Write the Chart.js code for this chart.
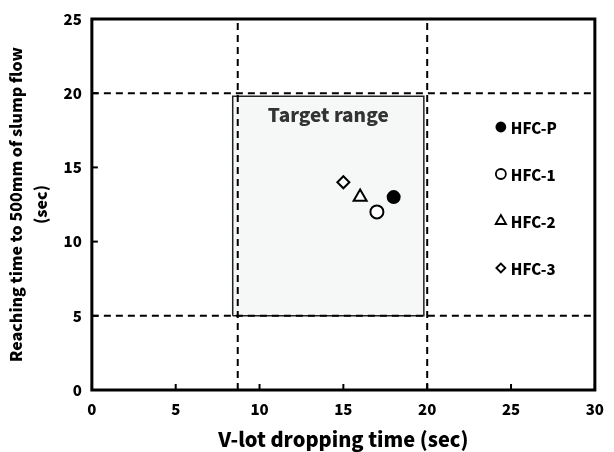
<!DOCTYPE html>
<html lang="en">
<head>
  <meta charset="UTF-8" />
  <title>V-lot vs slump flow</title>
  <script src="https://cdn.jsdelivr.net/npm/chart.js"></script>
  <style>
    body { margin: 0; background: #fff; }
    #wrap { width: 614px; height: 452px; }
  </style>
</head>
<body>
  <div id="wrap"><canvas id="chart" width="614" height="452"></canvas></div>

  <script>
    const FONT = '"Noto Sans CJK KR", "DejaVu Sans", sans-serif';

    // mixes
    const mixNames = ['HFC-P', 'HFC-1', 'HFC-2', 'HFC-3'];
    const vlotTime = [18, 17, 16, 15];
    const slumpTime = [13, 12, 13, 14];

    // limits
    const vlotLimits = [8.7, 20];
    const slumpLimits = [20, 5];
    const targetX = [8.4, 19.8];
    const targetY = [5, 19.8];

    const xTicks = [0, 5, 10, 15, 20, 25, 30];
    const yTicks = [0, 5, 10, 15, 20, 25];

    const markerStyles = [
      { pointStyle: 'circle', radius: 6, fill: '#000' },
      { pointStyle: 'circle', radius: 6.5, fill: '#fff' },
      { pointStyle: 'triangle', radius: 7.5, fill: '#fff' },
      { pointStyle: 'rectRot', radius: 6, fill: '#fff' }
    ];

    const datasets = [];

    mixNames.forEach((name, i) => {
      const m = markerStyles[i];
      datasets.push({
        label: name,
        data: [{ x: vlotTime[i], y: slumpTime[i] }],
        pointStyle: m.pointStyle,
        pointRadius: m.radius,
        pointBackgroundColor: m.fill,
        pointBorderColor: '#000',
        pointBorderWidth: 2,
        showLine: false,
        order: 0
      });
    });

    vlotLimits.forEach(v => {
      datasets.push({
        label: 'limit',
        data: [{ x: v, y: 0 }, { x: v, y: 25 }],
        showLine: true, borderColor: '#000', borderWidth: 2, borderDash: [7, 5],
        pointRadius: 0, order: 1
      });
    });
    slumpLimits.forEach(v => {
      datasets.push({
        label: 'limit',
        data: [{ x: 0, y: v }, { x: 30, y: v }],
        showLine: true, borderColor: '#000', borderWidth: 2, borderDash: [7, 5],
        pointRadius: 0, order: 1
      });
    });

    // shaded target box
    datasets.push({
      label: 'target',
      data: [
        { x: targetX[0], y: targetY[0] },
        { x: targetX[0], y: targetY[1] },
        { x: targetX[1], y: targetY[1] },
        { x: targetX[1], y: targetY[0] },
        { x: targetX[0], y: targetY[0] }
      ],
      showLine: true, borderColor: '#222', borderWidth: 1.5,
      backgroundColor: '#f6f8f8', fill: 'shape',
      pointRadius: 0, tension: 0, order: 2
    });

    const framePlugin = {
      id: 'frame',
      afterDatasetsDraw(chart) {
        const { ctx, chartArea: a, scales } = chart;
        ctx.save();
        // box label
        ctx.fillStyle = '#333';
        ctx.font = '900 19px ' + FONT;
        ctx.textAlign = 'center';
        ctx.textBaseline = 'middle';
        const cx = (scales.x.getPixelForValue(targetX[0]) + scales.x.getPixelForValue(targetX[1])) / 2;
        ctx.fillText('Target range', cx, scales.y.getPixelForValue(targetY[1]) + 19);

        // legend
        ctx.textAlign = 'left';
        ctx.font = '900 15px ' + FONT;
        mixNames.forEach((name, i) => {
          const m = markerStyles[i];
          const py = a.top + 108 + i * 47;
          const px = a.left + 409;
          ctx.fillStyle = m.fill;
          ctx.strokeStyle = '#000';
          ctx.lineWidth = 1.8;
          Chart.helpers.drawPoint(ctx, { pointStyle: m.pointStyle, radius: m.radius - 1.5, borderWidth: 1.8 }, px, py);
          ctx.fillStyle = '#000';
          ctx.fillText(name, px + 10, py + 1);
        });

        // inward ticks
        ctx.strokeStyle = '#000';
        ctx.lineWidth = 2;
        xTicks.forEach(t => {
          const x = scales.x.getPixelForValue(t);
          ctx.beginPath(); ctx.moveTo(x, a.bottom); ctx.lineTo(x, a.bottom - 6); ctx.stroke();
        });
        yTicks.forEach(t => {
          const y = scales.y.getPixelForValue(t);
          ctx.beginPath(); ctx.moveTo(a.left, y); ctx.lineTo(a.left + 6, y); ctx.stroke();
        });

        // frame
        ctx.lineWidth = 3;
        ctx.strokeRect(a.left, a.top, a.right - a.left, a.bottom - a.top);
        ctx.restore();
      }
    };

    new Chart(document.getElementById('chart'), {
      type: 'scatter',
      data: { datasets },
      options: {
        responsive: false,
        animation: false,
        layout: { padding: { top: 4, right: 16, left: 4, bottom: 0 } },
        plugins: {
          legend: { display: false },
          tooltip: { enabled: false }
        },
        scales: {
          x: {
            min: 0, max: 30,
            grid: { display: false, drawTicks: false },
            border: { display: false },
            afterBuildTicks: s => { s.ticks = xTicks.map(v => ({ value: v })); },
            ticks: { color: '#000', padding: 10, font: { family: FONT, size: 15, weight: '900' } },
            title: {
              display: true, text: 'V-lot dropping time (sec)', color: '#000',
              padding: { top: 1, bottom: 3 },
              font: { family: FONT, size: 20, weight: '900', lineHeight: 1.0 }
            }
          },
          y: {
            min: 0, max: 25,
            grid: { display: false, drawTicks: false },
            border: { display: false },
            afterBuildTicks: s => { s.ticks = yTicks.map(v => ({ value: v })); },
            ticks: { color: '#000', padding: 10, font: { family: FONT, size: 15, weight: '900' } },
            title: {
              display: true, text: ['Reaching time to 500mm of slump flow', '(sec)'], color: '#000',
              padding: { top: 0, bottom: 0 },
              font: { family: FONT, size: 16, weight: '900', lineHeight: 1.55 }
            }
          }
        }
      },
      plugins: [framePlugin]
    });
  </script>
</body>
</html>
